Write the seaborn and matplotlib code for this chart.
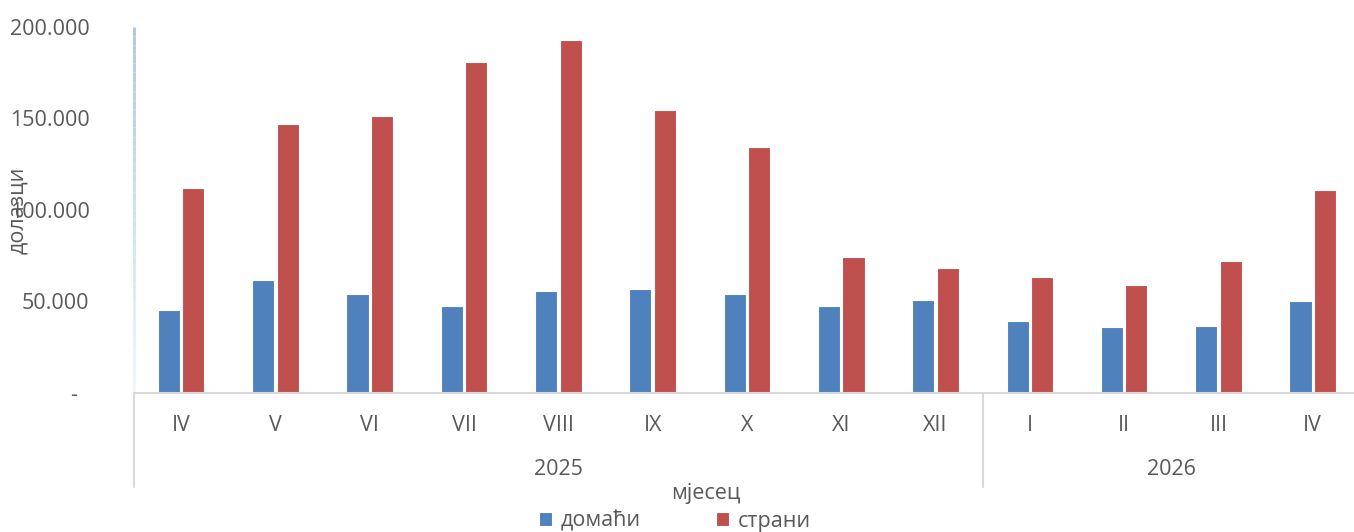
import numpy as np
import pandas as pd
import matplotlib
matplotlib.use("Agg")
import matplotlib.pyplot as plt
import matplotlib.transforms as mtransforms
from matplotlib.collections import LineCollection
import seaborn as sns

# --------------------------------------------------
# Data
# --------------------------------------------------
months = ["IV", "V", "VI", "VII", "VIII", "IX", "X", "XI", "XII", "I", "II", "III", "IV"]
years = ["2025"] * 9 + ["2026"] * 4
domaci = [45200, 61500, 54200, 47500, 55700, 56800, 53900, 47500, 50800, 39500, 36000, 36800, 50400]
strani = [112100, 146700, 151400, 180700, 192600, 154400, 134200, 74400, 68100, 63500, 59000, 72200, 110800]
series_names = ["домаћи", "страни"]
y_ticks = [0, 50000, 100000, 150000, 200000]

# --------------------------------------------------
# Long format table for seaborn
# --------------------------------------------------
periods = [f"{m} {y}" for m, y in zip(months, years)]
df = pd.DataFrame({
    "period": periods * 2,
    "value": domaci + strani,
    "series": [series_names[0]] * len(periods) + [series_names[1]] * len(periods),
})

# --------------------------------------------------
# Style
# --------------------------------------------------
sns.set_style("white")
plt.rcParams["font.family"] = ["Open Sans", "DejaVu Sans"]
text_color = "#595959"
grid_color = "#D9D9D9"
blue = "#4F81BD"
red = "#C0504D"
fs = 15.5

W, H = 1354, 532
fig = plt.figure(figsize=(W / 100, H / 100), dpi=100)
ax_left, ax_bottom, ax_top = 134, 393, 26.7
ax_w = 13 * 94.3
ax = fig.add_axes([ax_left / W, (H - ax_bottom) / H, ax_w / W, (ax_bottom - ax_top) / H])

sns.barplot(
    data=df, x="period", y="value", hue="series",
    palette=[blue, red], saturation=1, width=0.52, gap=0.1,
    edgecolor="white", linewidth=0.8, ax=ax,
)

handles, labels = ax.get_legend_handles_labels()
ax.get_legend().remove()

ax.set_xlim(-0.5, len(months) - 0.5)
ax.set_ylim(0, 200000)

# y axis ticks
ax.set_yticks(y_ticks)
ax.set_yticklabels(["-  "] + [f"{v:,}".replace(",", ".") for v in y_ticks[1:]],
                   fontsize=fs, color=text_color)
ax.tick_params(axis="y", length=0, pad=32)

# x axis: months, then years
ax.set_xticks(range(len(months)))
ax.set_xticklabels(months, fontsize=fs, color=text_color)
ax.tick_params(axis="x", length=0, pad=16)
ax.set_xlabel("")
ax.set_ylabel("")

trans = mtransforms.blended_transform_factory(ax.transData, ax.transAxes)
ax.text(4, -0.2075, "2025", transform=trans, ha="center", va="center",
        fontsize=fs, color=text_color)
ax.text(10.5, -0.2075, "2026", transform=trans, ha="center", va="center",
        fontsize=fs, color=text_color)

# group separators
for xs in [-0.5, 8.5]:
    ax.plot([xs, xs], [0, -0.257], transform=trans, color=grid_color,
            lw=1.5, clip_on=False)

# spines
for s in ["top", "right", "left"]:
    ax.spines[s].set_visible(False)
ax.spines["bottom"].set_color(grid_color)
ax.spines["bottom"].set_linewidth(1.5)

# light blue fading vertical axis line
n = 40
ys = np.linspace(0, 1, n + 1)
segs = [[(0, ys[i]), (0, ys[i + 1])] for i in range(n)]
c_top = np.array(matplotlib.colors.to_rgb("#A9C4E8"))
c_bot = np.array([0.95, 0.97, 0.995])
cols = [c_bot + (c_top - c_bot) * (ys[i] + ys[i + 1]) / 2 for i in range(n)]
lc = LineCollection(segs, colors=cols, linewidths=2, transform=ax.transAxes, clip_on=False)
ax.add_collection(lc)

# axis titles
fig.text(18 / W, 1 - 210 / H, "долазци", rotation=90, ha="center", va="center",
         fontsize=fs, color=text_color)
fig.text(706 / W, 1 - 493 / H, "мјесец", ha="center", va="center",
         fontsize=fs, color=text_color)

# legend
fig.legend(handles, labels, loc="center", bbox_to_anchor=(675 / W, 1 - 521 / H),
           ncol=2, frameon=False, fontsize=fs, labelcolor=text_color,
           handlelength=0.6, handleheight=0.6, handletextpad=0.4,
           columnspacing=3.5, borderpad=0)

fig.savefig("out.png", dpi=100, facecolor="white")
